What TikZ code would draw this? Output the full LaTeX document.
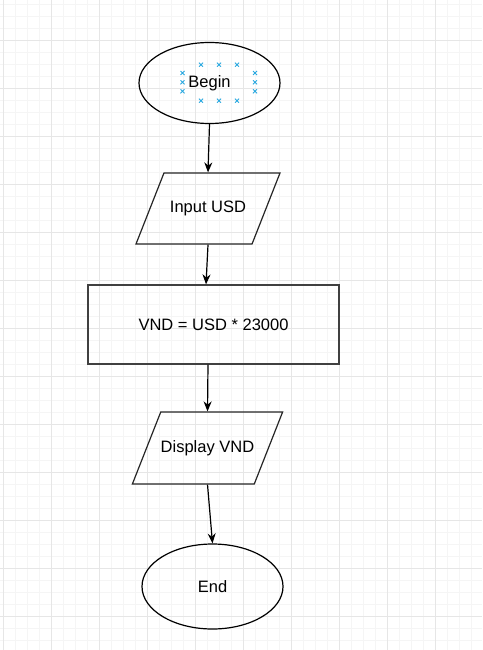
\documentclass[tikz,border=0pt]{standalone}
\usepackage{fontspec}
\setmainfont{Liberation Sans}
\usepackage{tikz}
\usetikzlibrary{arrows.meta, shapes.geometric}

\definecolor{minorgrid}{HTML}{F5F5F5}
\definecolor{majorgrid}{HTML}{E6E6E6}
\definecolor{handle}{HTML}{29A8E0}

\begin{document}
\begin{tikzpicture}[
      x=1pt, y=-1pt,
      terminal/.style={draw, ellipse, line width=1.2pt, minimum width=141pt, minimum height=81pt, inner sep=0pt},
      io/.style={draw=black!85, trapezium, trapezium left angle=68.5, trapezium right angle=111.5,
        trapezium stretches body, line width=1.2pt, minimum width=144pt,
        text height=12pt, text depth=3.5pt, inner xsep=0pt, inner ysep=27.75pt},
      process/.style={draw=black!75, rectangle, line width=1.3pt, minimum width=251pt, minimum height=79pt},
      flow/.style={-{Stealth[length=10pt, width=8pt]}, line width=1.2pt},
      every node/.style={font=\fontsize{16.5}{20}\selectfont}
    ]
    \useasboundingbox (0,0) rectangle (482,650);
    \fill[white] (0,0) rectangle (482,650);

    % background grid
    \foreach \x in {3.3,15.3,...,482} \draw[minorgrid, line width=1pt] (\x,0) -- (\x,650);
    \foreach \y in {4.3,16.3,...,650} \draw[minorgrid, line width=1pt] (0,\y) -- (482,\y);
    \foreach \x in {3.3,51.3,...,482} \draw[majorgrid, line width=1pt] (\x,0) -- (\x,650);
    \foreach \y in {40.3,88.3,...,650} \draw[majorgrid, line width=1pt] (0,\y) -- (482,\y);

    \node[terminal] (begin) at (209.5,83) {Begin};
    \node[io] (input) at (208,208.5) {Input USD};
    \node[process] (calc) at (213.5,324.5) {VND = USD * 23000};
    \node[io, minimum width=143pt, inner ysep=28.25pt] (display) at (207.5,448) {Display VND};
    \node[terminal, minimum height=85pt] (end) at (212.5,586.5) {End};

    % selection handles round the Begin label
    \foreach \hx/\hy in {201/64.7, 219/64.7, 237/64.7, 201/100.7, 219/100.7, 237/100.7,
                         182.5/73, 182.5/82.3, 182.5/91.3, 255/73, 255/82.3, 255/91.3}
      \draw[handle, line width=0.8pt] (\hx-2,\hy-2) -- (\hx+2,\hy+2) (\hx-2,\hy+2) -- (\hx+2,\hy-2);

    \draw[flow] (begin.south) -- (input.north);
    \draw[flow] (input.south) -- ([xshift=-7.5pt]calc.north);
    \draw[flow] ([xshift=-5.5pt]calc.south) -- (display.north);
    \draw[flow] (display.south) -- (end.north);
  \end{tikzpicture}
\end{document}
